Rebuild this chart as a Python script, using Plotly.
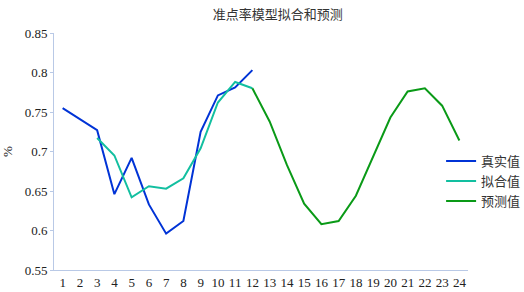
import plotly.graph_objects as go

x_real = list(range(1, 13))
real = [0.755, 0.741, 0.727, 0.646, 0.692, 0.633, 0.596, 0.612, 0.725, 0.771, 0.781, 0.803]

x_fit = list(range(3, 13))
fit = [0.717, 0.695, 0.642, 0.656, 0.653, 0.666, 0.704, 0.762, 0.788, 0.780]

x_pred = list(range(12, 25))
pred = [0.780, 0.738, 0.683, 0.634, 0.608, 0.612, 0.644, 0.693, 0.743, 0.776, 0.780, 0.758, 0.714]

x_ticks = list(range(1, 25))
y_ticks = [0.55, 0.6, 0.65, 0.7, 0.75, 0.8, 0.85]
y_tick_text = ["0.55", "0.6", "0.65", "0.7", "0.75", "0.8", "0.85"]

FONT = "Times New Roman, Liberation Serif, DejaVu Serif, serif"
CJK = "Times New Roman, Liberation Serif, Noto Sans CJK SC, serif"
AXIS_COLOR = "#B9C9E6"

fig = go.Figure()
fig.add_trace(go.Scatter(x=x_real, y=real, mode="lines", name="真实值",
                         line=dict(color="#0033D6", width=2)))
fig.add_trace(go.Scatter(x=x_fit, y=fit, mode="lines", name="拟合值",
                         line=dict(color="#12BFA0", width=2)))
fig.add_trace(go.Scatter(x=x_pred, y=pred, mode="lines", name="预测值",
                         line=dict(color="#0A9A17", width=2)))

fig.update_layout(
    width=524, height=292,
    margin=dict(l=54, r=56, t=33, b=22, autoexpand=False),
    paper_bgcolor="white", plot_bgcolor="white",
    font=dict(family=CJK, size=13, color="#222222"),
    title=dict(text="准点率模型拟合和预测", x=0.53, xref="container", xanchor="center",
               y=0.95, yanchor="middle",
               font=dict(family=CJK, size=13, color="#333333")),
    showlegend=True,
    legend=dict(x=0.935, xanchor="left", y=0.375, yanchor="middle",
                font=dict(family=CJK, size=13, color="#333333"),
                tracegroupgap=0, itemwidth=30, bgcolor="rgba(0,0,0,0)"),
    xaxis=dict(range=[0.5, 24.5], tickmode="array", tickvals=x_ticks,
               ticktext=[str(v) for v in x_ticks], tickangle=0,
               showgrid=False, zeroline=False, showline=True, linecolor=AXIS_COLOR,
               linewidth=1, ticks="", tickfont=dict(family=FONT, size=13, color="#222222")),
    yaxis=dict(range=[0.55, 0.85], tickmode="array", tickvals=y_ticks, ticktext=y_tick_text,
               showgrid=False, zeroline=False, showline=True, linecolor=AXIS_COLOR,
               linewidth=1, ticks="outside", ticklen=3, tickcolor=AXIS_COLOR,
               title=dict(text="%", standoff=16, font=dict(family=FONT, size=13)),
               tickfont=dict(family=FONT, size=13, color="#222222")),
)

fig.write_html("out.html", config={"displayModeBar": False},
               post_script="document.body.style.margin='0';document.body.style.padding='0';")
